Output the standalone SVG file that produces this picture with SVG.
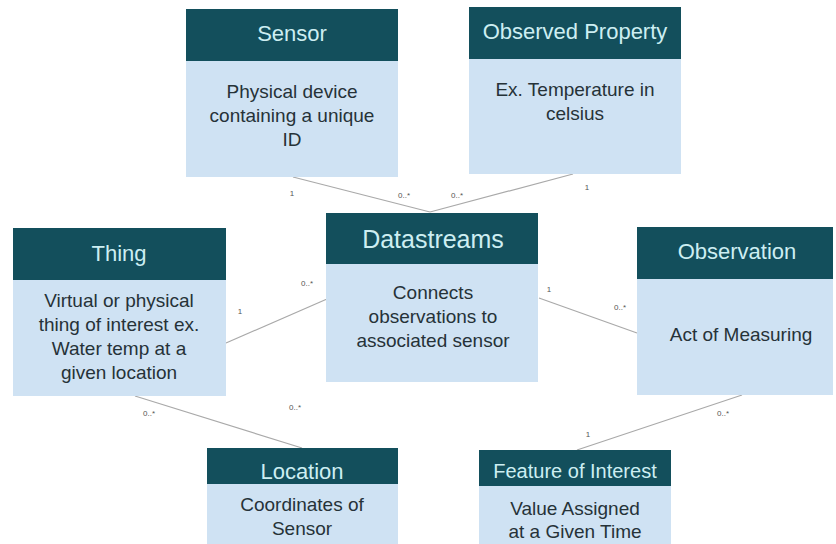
<svg xmlns="http://www.w3.org/2000/svg" width="836" height="544" viewBox="0 0 836 544">
<style>
.hd{fill:#134f5c}
.bd{fill:#cfe2f3}
.ht{font-family:"Liberation Sans",Arial,sans-serif;fill:#cdeef2;text-anchor:middle}
.bt{font-family:"Liberation Sans",Arial,sans-serif;fill:#263238;font-size:19px;text-anchor:middle}
.ln{stroke:#a9a9a9;stroke-width:1.2;fill:none}
.lb{font-family:"Liberation Sans",Arial,sans-serif;fill:#555;font-size:8px;text-anchor:middle}
</style>
<rect width="836" height="544" fill="#ffffff"/>
<g id="connectors">
<line class="ln" x1="293" y1="177" x2="430" y2="212"/>
<line class="ln" x1="573" y1="174" x2="430" y2="212"/>
<line class="ln" x1="226" y1="343" x2="327" y2="299"/>
<line class="ln" x1="539" y1="298" x2="637" y2="333"/>
<line class="ln" x1="135" y1="396" x2="302" y2="448"/>
<line class="ln" x1="742" y1="395" x2="577" y2="450"/>
<text class="lb" x="292" y="196">1</text>
<text class="lb" x="404" y="198">0..*</text>
<text class="lb" x="457" y="198">0..*</text>
<text class="lb" x="587" y="190">1</text>
<text class="lb" x="240" y="314">1</text>
<text class="lb" x="307" y="286">0..*</text>
<text class="lb" x="549" y="292">1</text>
<text class="lb" x="620" y="310">0..*</text>
<text class="lb" x="149" y="416">0..*</text>
<text class="lb" x="295" y="410">0..*</text>
<text class="lb" x="588" y="437">1</text>
<text class="lb" x="723" y="416">0..*</text>
</g>
<g id="sensor">
<rect class="bd" x="186" y="61" width="212" height="116"/>
<rect class="hd" x="186" y="9" width="212" height="52"/>
<text class="ht" x="292" y="41" font-size="22">Sensor</text>
<text class="bt" x="292" y="98">Physical device</text>
<text class="bt" x="292" y="122">containing a unique</text>
<text class="bt" x="292" y="146">ID</text>
</g>
<g id="observed-property">
<rect class="bd" x="469" y="59" width="212" height="115"/>
<rect class="hd" x="469" y="7" width="212" height="52"/>
<text class="ht" x="575" y="39" font-size="22">Observed Property</text>
<text class="bt" x="575" y="96">Ex. Temperature in</text>
<text class="bt" x="575" y="120">celsius</text>
</g>
<g id="datastreams">
<rect class="bd" x="326" y="264" width="212" height="118"/>
<rect class="hd" x="326" y="213" width="212" height="51"/>
<text class="ht" x="433" y="248" font-size="25">Datastreams</text>
<text class="bt" x="433" y="299">Connects</text>
<text class="bt" x="433" y="323">observations to</text>
<text class="bt" x="433" y="347">associated sensor</text>
</g>
<g id="thing">
<rect class="bd" x="13" y="280" width="213" height="116"/>
<rect class="hd" x="13" y="228" width="213" height="52"/>
<text class="ht" x="119" y="261" font-size="22">Thing</text>
<text class="bt" x="119" y="307">Virtual or physical</text>
<text class="bt" x="119" y="331">thing of interest ex.</text>
<text class="bt" x="119" y="355">Water temp at a</text>
<text class="bt" x="119" y="379">given location</text>
</g>
<g id="observation">
<rect class="bd" x="637" y="279" width="196" height="116"/>
<rect class="hd" x="637" y="227" width="196" height="52"/>
<text class="ht" x="737" y="259" font-size="22">Observation</text>
<text class="bt" x="741" y="341">Act of Measuring</text>
</g>
<g id="location">
<rect class="bd" x="207" y="484" width="191" height="62"/>
<rect class="hd" x="207" y="448" width="191" height="36"/>
<text class="ht" x="302" y="479" font-size="22">Location</text>
<text class="bt" x="302" y="511">Coordinates of</text>
<text class="bt" x="302" y="535">Sensor</text>
</g>
<g id="feature-of-interest">
<rect class="bd" x="479" y="486" width="192" height="60"/>
<rect class="hd" x="479" y="450" width="192" height="36"/>
<text class="ht" x="575" y="478" font-size="20">Feature of Interest</text>
<text class="bt" x="575" y="515">Value Assigned</text>
<text class="bt" x="575" y="538">at a Given Time</text>
</g>
</svg>
